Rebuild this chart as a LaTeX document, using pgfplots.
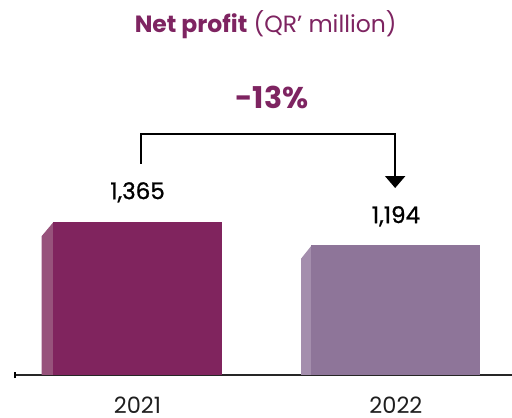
\documentclass[border=0pt]{standalone}
\usepackage{pgfplots}
\pgfplotsset{compat=1.18}
\usepackage{fontspec}
\setmainfont{Poppins}
\usetikzlibrary{arrows.meta}
\definecolor{plum}{HTML}{80245E}
\definecolor{plumside}{HTML}{97527B}
\definecolor{mauve}{HTML}{8E7599}
\definecolor{mauveside}{HTML}{A48EAD}
\definecolor{titlec}{HTML}{7E2461}
\newcommand{\valfont}{\fontsize{23}{23}\selectfont\addfontfeatures{FakeBold=1}}

\begin{document}
\begin{tikzpicture}
\useasboundingbox (0,0) rectangle (512pt,418pt);
\begin{axis}[
  at={(15pt,43pt)}, anchor=south west,
  scale only axis, width=497pt, height=375pt,
  xmin=-0.474, xmax=1.449, ymin=230, ymax=3018,
  hide y axis, axis x line*=bottom,
  x axis line style={draw=black!85, line width=1.3pt, -},
  xtick={0,1}, xticklabels={2021,2022},
  major tick length=0pt,
  xticklabel style={anchor=center, yshift=-30pt, font=\fontsize{22.5}{23}\selectfont, text=black!88},
  extra x ticks={-0.474}, extra x tick labels={},
  extra x tick style={major tick length=6pt, tick align=center, tick style={black, line width=1.2pt}},
  /pgf/number format/assume math mode=true,
]
% side faces of the bars
\addplot[fill=plumside, draw=none] coordinates {(-0.3706,230) (-0.3706,1263) (-0.326,1365) (-0.326,230)} -- cycle;
\addplot[fill=mauveside, draw=none] coordinates {(0.6329,230) (0.6329,1095) (0.674,1194) (0.674,230)} -- cycle;
% front faces
\addplot[ybar, bar width=169pt, fill=plum, draw=none, nodes near coords,
  every node near coord/.append style={anchor=center, yshift=30pt, text=black, font=\valfont}]
  coordinates {(0,1365)};
\addplot[ybar, bar width=169pt, fill=mauve, draw=none, nodes near coords,
  every node near coord/.append style={anchor=center, yshift=29pt, text=black, font=\valfont}]
  coordinates {(1,1194)};
% title and change annotation
\node[font=\fontsize{23.5}{26}\selectfont, text=titlec] at (axis cs:0.496,2832) {\textbf{Net profit} (QR’ million)};
\node[font=\bfseries\fontsize{30}{30}\selectfont, text=titlec] at (axis cs:0.520,2293) {-13\%};
\draw[line width=2.2pt, -{Triangle[width=20pt,length=12pt]}]
  (axis cs:0.0124,1799) |- (axis cs:0.9969,2022) -- (axis cs:0.9969,1620);
\end{axis}
\end{tikzpicture}
\end{document}
